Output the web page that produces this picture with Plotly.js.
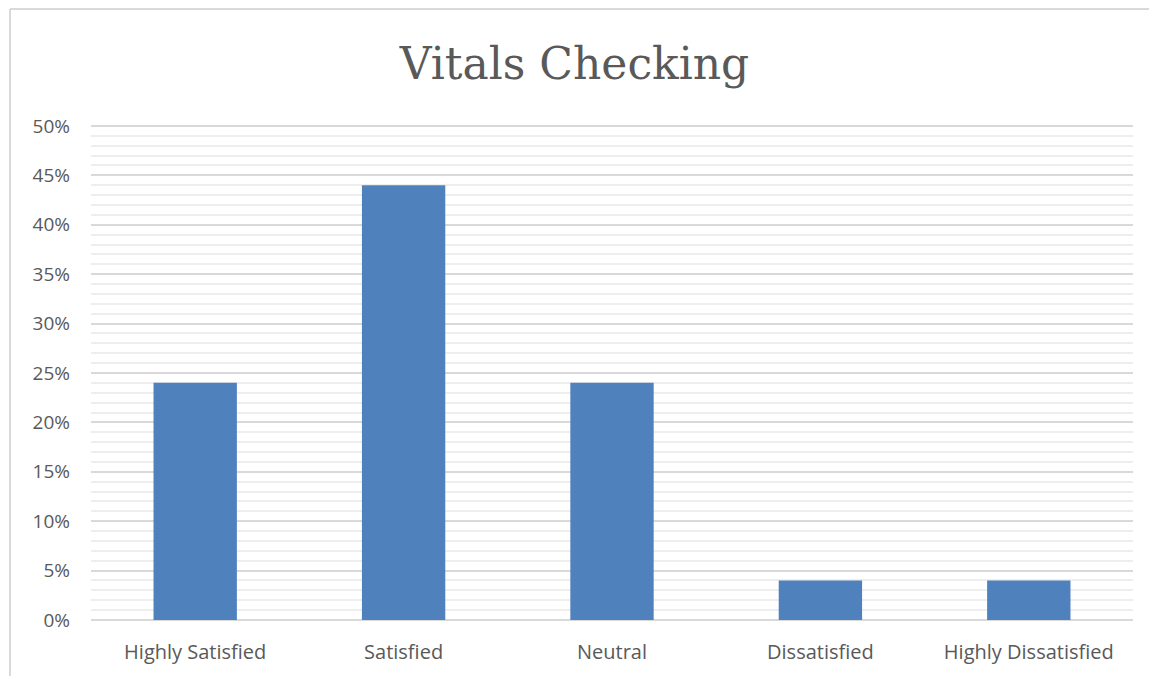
<!DOCTYPE html>
<html>
<head>
<meta charset="utf-8">
<script src="https://cdn.plot.ly/plotly-3.0.1.min.js"></script>
<style>
html,body{margin:0;padding:0;background:#fff;}
#chart{width:1149px;height:676px;}
</style>
</head>
<body>
<div id="chart"></div>
<script>
const categories = ["Highly Satisfied", "Satisfied", "Neutral", "Dissatisfied", "Highly Dissatisfied"];
const values = [0.24, 0.44, 0.24, 0.04, 0.04];
const tickValues = [0, 0.05, 0.10, 0.15, 0.20, 0.25, 0.30, 0.35, 0.40, 0.45, 0.50];
const tickLabels = ["0%", "5%", "10%", "15%", "20%", "25%", "30%", "35%", "40%", "45%", "50%"];

const W = 1149, H = 676;
const margin = {l: 91, r: 16, t: 123, b: 56};
const pw = W - margin.l - margin.r, ph = H - margin.t - margin.b;

const trace = {
  type: "bar",
  x: categories,
  y: values,
  marker: {color: "#4f81bd", line: {width: 0}},
  width: 0.4,
  hoverinfo: "x+y"
};

const layout = {
  width: W, height: H,
  margin: margin,
  paper_bgcolor: "#fff",
  plot_bgcolor: "#fff",
  showlegend: false,
  title: {
    text: "Vitals Checking",
    font: {family: "DejaVu Serif, Liberation Serif, serif", size: 44, color: "#595959"},
    x: 0.5, xanchor: "center",
    y: 1 - 64 / H, yanchor: "middle"
  },
  xaxis: {
    type: "category",
    showgrid: false,
    showline: false,
    zeroline: false,
    ticks: "",
    tickfont: {family: "Open Sans, Noto Sans, sans-serif", size: 20, color: "#595959"},
    ticklabelstandoff: 18
  },
  yaxis: {
    range: [0, 0.503],
    tickvals: tickValues,
    ticktext: tickLabels,
    showgrid: true,
    gridcolor: "#d9d9d9",
    gridwidth: 1.5,
    zeroline: true,
    zerolinecolor: "#d9d9d9",
    zerolinewidth: 1.5,
    showline: false,
    ticks: "",
    tickfont: {family: "Open Sans, Noto Sans, sans-serif", size: 19, color: "#595959"},
    ticklabelstandoff: 20,
    minor: {dtick: 0.01, showgrid: true, gridcolor: "#eeeeee", gridwidth: 1.5}
  },
  shapes: [
    {type: "line", xref: "paper", yref: "paper",
     x0: (10 - margin.l) / pw, x1: (10 - margin.l) / pw,
     y0: (H - 9 - margin.b) / ph, y1: -(margin.b + 5) / ph,
     line: {color: "#d9d9d9", width: 2}},
    {type: "line", xref: "paper", yref: "paper",
     x0: (10 - margin.l) / pw, x1: (W + 5 - margin.l) / pw,
     y0: (H - 9 - margin.b) / ph, y1: (H - 9 - margin.b) / ph,
     line: {color: "#d9d9d9", width: 2}}
  ]
};

Plotly.newPlot("chart", [trace], layout, {displayModeBar: false});
</script>
</body>
</html>
